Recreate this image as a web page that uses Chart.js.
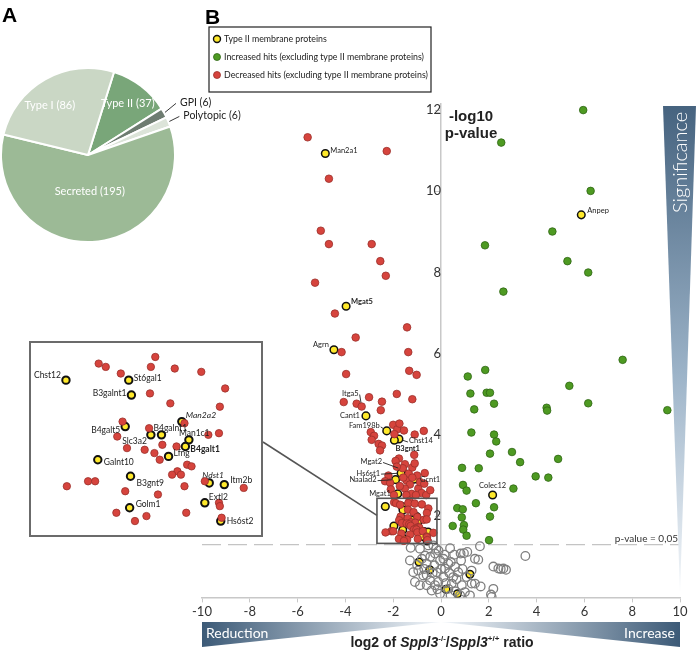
<!DOCTYPE html>
<html>
<head>
<meta charset="utf-8">
<script src="https://cdn.jsdelivr.net/npm/chart.js@4.4.1/dist/chart.umd.min.js"></script>
<style>
  html, body { margin: 0; padding: 0; background: #fff; }
  #wrap { position: relative; width: 696px; height: 654px; overflow: hidden; }
  canvas { position: absolute; }
</style>
</head>
<body>
<div id="wrap">
  <canvas id="main" width="696" height="654" style="left:0;top:0"></canvas>
  <canvas id="pie" width="260" height="176" style="left:0;top:67px"></canvas>
  <canvas id="inset" width="234" height="196" style="left:29px;top:341px"></canvas>
</div>
<script>
// ---- panel A: pie ----
var pieLabels = ['Type II (37)', 'GPI (6)', 'Polytopic (6)', 'Secreted (195)', 'Type I (86)'];
var pieCounts = [37, 6, 6, 195, 86];
var pieColors = ['#79a679', '#6e7c71', '#dce4d9', '#9cba96', '#cad7c5'];

// ---- panel B: volcano ----
var xTicks = [-10, -8, -6, -4, -2, 0, 2, 4, 6, 8, 10];
var yTicks = [2, 4, 6, 8, 10, 12];

// not significant (open circles)
var greyX = [0.38, 1.63, 3.53, 1.56, 2.19, 2.50, 2.72, 2.19, 2.09, 1.66, 1.28, 0.82, 0.96, 1.10, 0.84, 0.41,
  -1.27, -0.88, -0.53, -0.32, -1.30, -0.67, -0.25, -0.04, 0.31, 1.42, 2.40, 2.61, -1.16, -0.74, -0.18, 0.17,
  0.51, 0.72, 1.07, 1.42, -1.09, -0.88, -0.46, -0.11, -0.39, -0.04, 0.45, 0.87, 1.00, 1.21, 2.12, -0.95,
  -0.60, -0.28, 0.59, 1.28, 0.10, 0.31, -0.25, -0.60, -0.80, -0.45, -0.10, 0.15, 0.55, -0.35, 0.00, 0.35,
  0.65, 0.20, -0.15, 0.60, 0.80, 0.40, -0.60, -1.00, -0.70, 0.90, -0.20, 0.10];
var greyY = [1.21, 1.26, 1.02, 0.93, 0.76, 0.70, 0.68, 0.21, 0.07, 0.27, 0.34, 1.08, 1.09, 1.12, 0.91, 0.87,
  1.22, 1.20, 1.28, 1.28, 0.91, 1.03, 1.08, 0.91, 0.83, 0.95, 0.71, 0.71, 0.62, 0.54, 0.62, 0.71,
  0.50, 0.62, 0.50, 0.34, 0.38, 0.30, 0.42, 0.38, 0.17, 0.09, 0.34, 0.30, 0.13, 0.05, 0.01, 0.66,
  0.83, 0.79, 0.75, 0.66, 0.50, 0.21, 0.30, 0.30, 0.95, 1.00, 1.15, 1.05, 1.05, 0.60, 0.70, 0.60,
  0.45, 0.35, 0.20, 0.15, 0.05, 0.05, 0.55, 0.80, 0.70, 0.70, 1.20, 0.95];

// decreased hits
var redX = [-5.58, -2.27, -4.69, -5.03, -4.69, -2.90, -2.54, -2.31, -5.27, -4.44, -1.42, -3.57, -1.37, -4.16,
  -1.33, -3.97, -1.02, -4.07, -3.53, -3.01, -2.47, -2.52, -1.85, -1.20, -2.94, -2.80, -2.90, -2.61, -2.47,
  -2.55, -2.00, -1.83, -1.74, -1.55, -1.10, -0.72, -1.95, -1.12, -1.76, -1.90, -1.51, -0.68, -2.20, -2.34,
  -2.13, -1.44, -1.30, -0.95, -2.10, -1.51, -0.81, -1.23, -1.60, -1.35, -1.20, -1.00, -0.88, -1.72, -0.62,
  -0.45, -1.97, -1.45, -0.70, -1.05, -1.85, -1.10, -1.58, -1.20];
var redY = [11.33, 10.99, 10.31, 9.03, 8.70, 8.70, 8.28, 7.92, 7.75, 6.99, 6.65, 6.40, 6.04, 6.04,
  5.58, 5.50, 5.48, 4.81, 4.77, 4.93, 4.82, 4.61, 5.01, 4.88, 4.07, 3.98, 3.88, 3.78, 3.74,
  3.62, 4.25, 4.14, 4.28, 4.11, 4.01, 4.10, 4.02, 3.51, 3.42, 3.36, 3.28, 3.06, 3.00, 2.86,
  2.82, 2.88, 2.78, 2.68, 2.66, 2.68, 2.57, 2.55, 3.18, 3.05, 3.20, 3.00, 2.84, 2.74, 2.52,
  2.64, 2.52, 2.52, 2.80, 2.52, 3.22, 3.30, 2.95, 2.95];
var itga5X = [-3.32];
var itga5Y = [4.70];
// decreased hits inside the zoomed box (read from the enlarged view)
var zoomRedX = [-1.32, -1.96, -1.88, -1.37, -1.10, -0.80, -1.71, -1.38, -0.53, -1.15, -0.59, -1.69, -0.99,
  -1.39, -1.75, -0.72, -0.60, -1.64, -1.44, -1.24, -1.08, -1.33, -1.27, -0.96, -0.91, -1.07, -1.13, -1.03,
  -2.08, -2.00, -2.32, -0.99, -0.76, -0.32, -1.66, -1.29, -0.60, -0.59, -1.76, -1.42, -0.97, -1.55, -0.57];
var zoomRedY = [2.38, 2.34, 2.32, 2.32, 2.31, 2.29, 2.28, 2.16, 2.19, 2.10, 2.08, 1.99, 1.98,
  1.95, 1.90, 1.91, 1.92, 1.83, 1.82, 1.85, 1.84, 1.80, 1.76, 1.73, 1.72, 1.69, 1.67, 1.67,
  1.63, 1.63, 1.60, 1.60, 1.63, 1.59, 1.57, 1.55, 1.50, 1.48, 1.44, 1.42, 1.44, 1.39, 1.41];

// increased hits
var greenX = [5.95, 2.52, 6.26, 4.66, 1.84, 5.29, 6.16, 2.61, 7.60, 1.85, 1.12, 1.23, 1.91, 2.05, 5.37, 2.22,
  6.16, 1.39, 4.42, 4.44, 9.47, 1.27, 2.22, 2.31, 2.05, 2.97, 3.31, 4.90, 0.88, 1.58, 3.96, 4.49, 0.92,
  1.07, 3.03, 1.46, 2.22, 0.68, 0.91, 0.87, 2.05, 0.49, 0.96, 0.93, 1.07, 2.01];
var greenY = [12.00, 11.20, 10.01, 9.01, 8.67, 8.28, 8.00, 7.53, 5.85, 5.60, 5.44, 5.02, 5.04, 5.04, 5.21, 4.77,
  4.78, 4.63, 4.67, 4.60, 4.61, 4.06, 4.01, 3.84, 3.54, 3.58, 3.33, 3.41, 3.19, 3.18, 2.98, 2.95, 2.77,
  2.63, 2.68, 2.32, 2.22, 2.20, 2.17, 1.97, 1.99, 1.76, 1.78, 1.67, 1.52, 1.41];

// type II membrane proteins
var typeIINames = ['Man2a1', 'Mgat5', 'Agrn', 'Cant1', 'Fam198b', 'Chst14', 'B3gnt1', 'Mgat2', 'Hs6st1',
  'Naalad2', 'Gcnt1', 'Mgat1', 'Colec12', 'Anpep', '', '', '', '', ''];
var typeIIX = [-4.84, -3.97, -4.48, -3.14, -2.27, -1.76, -1.95, -1.63, -1.67, -1.90, -1.13, -1.81, 2.16, 5.87,
  -0.92, -0.47, 1.21, 0.21, 0.69];
var typeIIY = [10.93, 7.17, 6.10, 4.47, 4.10, 3.90, 3.87, 3.15, 3.06, 2.90, 2.91, 2.55, 2.52, 9.42,
  0.87, 0.68, 0.57, 0.20, 0.09];
var zoomTypeIINames = ['Chst12', 'St6gal1', 'B3galnt1', 'Man2a2', 'B4galt5', 'Slc3a2', 'B4galnt1', 'Man1c1',
  'B4galt1', 'Lfng', 'Galnt10', 'B3gnt9', 'Ndst1', 'Itm2b', 'Extl2', 'Golm1', 'Hs6st2'];
var zoomTypeIIX = [-2.33, -1.62, -1.59, -1.02, -1.66, -1.37, -1.25, -0.94, -0.98, -1.17, -1.97, -1.60,
  -0.71, -0.54, -0.76, -1.61, -0.58];
var zoomTypeIIY = [2.24, 2.24, 2.15, 1.99, 1.96, 1.91, 1.91, 1.88, 1.84, 1.78, 1.76, 1.66,
  1.62, 1.61, 1.50, 1.47, 1.39];

var zoomBox = { xMin: -2.68, xMax: -0.17, yMin: 1.33, yMax: 2.44 };
var pCut = 1.301; // -log10(0.05)

var legendItems = ['Type II membrane proteins',
  'Increased hits (excluding type II membrane proteins)',
  'Decreased hits (excluding type II membrane proteins)'];

function pts(xs, ys) { return xs.map(function (x, i) { return { x: x, y: ys[i] }; }); }

var allRedX = redX.concat(itga5X, zoomRedX), allRedY = redY.concat(itga5Y, zoomRedY);
var allYX = typeIIX.concat(zoomTypeIIX), allYY = typeIIY.concat(zoomTypeIIY);

function datasets(r, yBw) {
  return [
    { data: pts(greyX, greyY), pointRadius: r + 0.5, backgroundColor: 'rgba(0,0,0,0)', borderColor: '#7f7f7f', borderWidth: 1.3 },
    { data: pts(allRedX, allRedY), pointRadius: r, backgroundColor: '#d6443d', borderColor: '#9b302b', borderWidth: 0.8 },
    { data: pts(greenX, greenY), pointRadius: r, backgroundColor: '#4e9a22', borderColor: '#2f6614', borderWidth: 0.8 },
    { data: pts(allYX, allYY), pointRadius: r, backgroundColor: '#ffe92b', borderColor: '#111', borderWidth: yBw }
  ];
}

Chart.defaults.font.family = 'Lato, "Open Sans", sans-serif';

var mainStyle = {
  Man2a1: { dx: 5, dy: -3, align: 'left' },
  Mgat5: { dx: 5, dy: -5, align: 'left', bold: true },
  Agrn: { dx: -5, dy: -5, align: 'right' },
  Itga5: { dx: -3, dy: -13, align: 'right', line: true },
  Cant1: { dx: -6, dy: 0, align: 'right' },
  Fam198b: { dx: -7, dy: -5, align: 'right', line: true },
  Chst14: { dx: 10, dy: 2, align: 'left', line: true },
  B3gnt1: { dx: 1, dy: 8, align: 'left', bold: true },
  Mgat2: { dx: -20, dy: -8, align: 'right', line: true },
  Hs6st1: { dx: -21, dy: 0, align: 'right', line: true },
  Naalad2: { dx: -19, dy: 0, align: 'right', line: true },
  Gcnt1: { dx: 6, dy: 0, align: 'left' },
  Mgat1: { dx: -7, dy: 0, align: 'right' },
  Colec12: { dx: 0, dy: -9, align: 'center' },
  Anpep: { dx: 6, dy: -4, align: 'left' }
};
var insetStyle = {
  Chst12: { dx: -5, dy: -5, align: 'right' },
  St6gal1: { dx: 5, dy: -2, align: 'left' },
  B3galnt1: { dx: -5, dy: -2, align: 'right' },
  Man2a2: { dx: 4, dy: -6, align: 'left', italic: true },
  B4galt5: { dx: -5, dy: 4, align: 'right' },
  B4galnt1: { dx: -8, dy: -7, align: 'left' },
  Slc3a2: { dx: -4, dy: 6, align: 'right' },
  Man1c1: { dx: -10, dy: -7, align: 'left' },
  B4galt1: { dx: 5, dy: 3, align: 'left', bold: true },
  Lfng: { dx: 5, dy: -3, align: 'left' },
  Galnt10: { dx: 6, dy: 3, align: 'left' },
  B3gnt9: { dx: 6, dy: 7, align: 'left' },
  Ndst1: { dx: -7, dy: -8, align: 'left', italic: true },
  Itm2b: { dx: 6, dy: -4, align: 'left' },
  Extl2: { dx: 4, dy: -6, align: 'left' },
  Golm1: { dx: 6, dy: -4, align: 'left' },
  Hs6st2: { dx: 6, dy: 0, align: 'left' }
};

function drawNames(chart, names, xs, ys, styles, size) {
  var ctx = chart.ctx, sx = chart.scales.x, sy = chart.scales.y;
  ctx.save();
  ctx.fillStyle = '#222';
  ctx.strokeStyle = '#222';
  ctx.lineWidth = 0.9;
  ctx.textBaseline = 'middle';
  names.forEach(function (n, i) {
    var s = styles[n];
    if (!s) return;
    var px = sx.getPixelForValue(xs[i]), py = sy.getPixelForValue(ys[i]);
    var tx = px + s.dx, ty = py + s.dy;
    ctx.font = (s.italic ? 'italic ' : '') + (s.bold ? 'bold ' : '') + size + 'px Lato, sans-serif';
    ctx.textAlign = s.align;
    ctx.fillText(n, tx, ty);
    if (s.line) {
      var lx = tx + (s.align === 'right' ? 1 : -1), ly = ty + 1;
      var d = Math.hypot(px - lx, py - ly), k = (d - 4) / d;
      ctx.beginPath();
      ctx.moveTo(lx, ly);
      ctx.lineTo(lx + (px - lx) * k, ly + (py - ly) * k);
      ctx.stroke();
    }
  });
  ctx.restore();
}

function richText(ctx, parts, cx, y) {
  var w = 0;
  parts.forEach(function (p) { ctx.font = p.f; p.w = ctx.measureText(p.t).width; w += p.w; });
  var x = cx - w / 2;
  ctx.textAlign = 'left';
  parts.forEach(function (p) { ctx.font = p.f; ctx.fillText(p.t, x, y + (p.dy || 0)); x += p.w; });
}

var decor = {
  id: 'decor',
  beforeDatasetsDraw: function (chart) {
    var ctx = chart.ctx, sx = chart.scales.x, sy = chart.scales.y;
    var yc = sy.getPixelForValue(pCut);
    ctx.save();
    ctx.strokeStyle = '#c4c4c4';
    ctx.lineWidth = 1.3;
    ctx.setLineDash([19, 7]);
    ctx.beginPath();
    ctx.moveTo(sx.getPixelForValue(-10), yc);
    ctx.lineTo(sx.getPixelForValue(10), yc);
    ctx.stroke();
    ctx.restore();
  },
  afterDatasetsDraw: function (chart) {
    var ctx = chart.ctx, sx = chart.scales.x, sy = chart.scales.y;
    var x0 = sx.getPixelForValue(-10), x1 = sx.getPixelForValue(10), xm = sx.getPixelForValue(0);
    ctx.save();

    // zoom box + connector to the enlarged panel
    var bx0 = sx.getPixelForValue(zoomBox.xMin), bx1 = sx.getPixelForValue(zoomBox.xMax);
    var by0 = sy.getPixelForValue(zoomBox.yMax), by1 = sy.getPixelForValue(zoomBox.yMin);
    ctx.strokeStyle = '#555';
    ctx.lineWidth = 1.6;
    ctx.strokeRect(bx0, by0, bx1 - bx0, by1 - by0);
    ctx.beginPath();
    ctx.moveTo(263, 442);
    ctx.lineTo(bx0, by0 + (by1 - by0) * 0.38);
    ctx.stroke();

    // significance wedge
    var g = ctx.createLinearGradient(0, 106, 0, 592);
    g.addColorStop(0, '#46637f');
    g.addColorStop(0.55, '#9cb3c8');
    g.addColorStop(1, '#f4f7fa');
    ctx.fillStyle = g;
    ctx.beginPath();
    ctx.moveTo(663, 106); ctx.lineTo(696, 106); ctx.lineTo(680, 592); ctx.closePath();
    ctx.fill();
    ctx.save();
    ctx.translate(681, 213);
    ctx.rotate(-Math.PI / 2);
    ctx.fillStyle = '#fff';
    ctx.font = '300 20px Lato, sans-serif';
    ctx.textAlign = 'left';
    ctx.textBaseline = 'middle';
    ctx.fillText('Significance', 0, 0);
    ctx.restore();

    // reduction / increase wedges
    var gl = ctx.createLinearGradient(x0, 0, xm, 0);
    gl.addColorStop(0, '#3c5a77'); gl.addColorStop(1, '#f2f6fa');
    ctx.fillStyle = gl;
    ctx.beginPath();
    ctx.moveTo(x0, 622); ctx.lineTo(xm, 622); ctx.lineTo(x0, 647); ctx.closePath();
    ctx.fill();
    var gr = ctx.createLinearGradient(x1, 0, xm, 0);
    gr.addColorStop(0, '#3c5a77'); gr.addColorStop(1, '#f2f6fa');
    ctx.fillStyle = gr;
    ctx.beginPath();
    ctx.moveTo(x1, 622); ctx.lineTo(xm, 622); ctx.lineTo(x1, 647); ctx.closePath();
    ctx.fill();
    ctx.fillStyle = '#fff';
    ctx.font = '14px Lato, sans-serif';
    ctx.textBaseline = 'middle';
    ctx.textAlign = 'left';
    ctx.fillText('Reduction', x0 + 4, 633);
    ctx.textAlign = 'right';
    ctx.fillText('Increase', x1 - 5, 633);

    // axis titles
    ctx.fillStyle = '#222';
    ctx.textBaseline = 'alphabetic';
    var B = 'bold 14px "Liberation Sans", Arial, sans-serif';
    var BI = 'italic bold 14px "Liberation Sans", Arial, sans-serif';
    var S = 'bold 8px "Liberation Sans", Arial, sans-serif';
    richText(ctx, [{ t: 'log2 of ', f: B }, { t: 'Sppl3', f: BI }, { t: '-/-', f: S, dy: -6 },
      { t: '/', f: B }, { t: 'Sppl3', f: BI }, { t: '+/+', f: S, dy: -6 }, { t: ' ratio', f: B }], xm + 1, 647);
    ctx.font = 'bold 15px "Liberation Sans", Arial, sans-serif';
    ctx.textAlign = 'center';
    ctx.textBaseline = 'middle';
    ctx.fillText('-log10', 471, 117);
    ctx.fillText('p-value', 471, 134);

    // p-value threshold note
    ctx.font = '10px Lato, sans-serif';
    ctx.fillStyle = '#333';
    ctx.textAlign = 'right';
    ctx.fillText('p-value = 0,05', 678, sy.getPixelForValue(pCut) - 6);

    // legend
    var lx = 209, ly = 27, lw = 222, lh = 65;
    ctx.strokeStyle = '#222';
    ctx.lineWidth = 1.2;
    ctx.strokeRect(lx, ly, lw, lh);
    var cols = [['#ffe92b', '#111', 1.4], ['#4e9a22', '#2f6614', 0.8], ['#d6443d', '#9b302b', 0.8]];
    ctx.font = '10px Lato, sans-serif';
    var fit = 10 * (lw - 18) / ctx.measureText(legendItems[2]).width;
    ctx.font = fit.toFixed(2) + 'px Lato, sans-serif';
    ctx.textAlign = 'left';
    legendItems.forEach(function (t, i) {
      var yy = ly + 12 + i * 18;
      ctx.beginPath();
      ctx.arc(lx + 8, yy, 3.5, 0, Math.PI * 2);
      ctx.fillStyle = cols[i][0];
      ctx.fill();
      ctx.strokeStyle = cols[i][1];
      ctx.lineWidth = cols[i][2];
      ctx.stroke();
      ctx.fillStyle = '#222';
      ctx.fillText(t, lx + 15, yy);
    });

    // panel letters
    ctx.font = 'bold 21px "Liberation Sans", Arial, sans-serif';
    ctx.textAlign = 'left';
    ctx.textBaseline = 'alphabetic';
    ctx.fillStyle = '#000';
    ctx.fillText('A', 2, 22);
    ctx.fillText('B', 205, 24);
    ctx.restore();

    drawNames(chart, typeIINames.concat(['Itga5']), typeIIX.concat(itga5X), typeIIY.concat(itga5Y), mainStyle, 7.5);
  }
};

new Chart(document.getElementById('main'), {
  type: 'scatter',
  data: { datasets: datasets(3.8, 1.5) },
  options: {
    responsive: false,
    animation: false,
    layout: { padding: { left: 202, right: 16, top: 104, bottom: 32 } },
    plugins: { legend: { display: false }, tooltip: { enabled: false } },
    scales: {
      x: {
        type: 'linear', min: -10, max: 10,
        afterBuildTicks: function (axis) { axis.ticks = xTicks.map(function (v) { return { value: v }; }); },
        ticks: { color: '#333', font: { size: 13 }, padding: 2 },
        grid: { drawOnChartArea: false, tickLength: 5, color: '#c8c8c8' },
        border: { color: '#c8c8c8', width: 1.5 }
      },
      y: {
        type: 'linear', position: { x: 0 }, min: 0, max: 12.15,
        afterBuildTicks: function (axis) { axis.ticks = yTicks.map(function (v) { return { value: v }; }); },
        ticks: { color: '#333', font: { size: 13 }, padding: 6 },
        grid: { drawOnChartArea: false, tickLength: 5, color: '#c8c8c8' },
        border: { color: '#c8c8c8', width: 1.5 }
      }
    }
  },
  plugins: [decor]
});

// enlarged view of the boxed region
new Chart(document.getElementById('inset'), {
  type: 'scatter',
  data: { datasets: datasets(3.7, 2) },
  options: {
    responsive: false,
    animation: false,
    layout: { padding: 0 },
    plugins: { legend: { display: false }, tooltip: { enabled: false } },
    scales: {
      x: { type: 'linear', display: false, min: zoomBox.xMin, max: zoomBox.xMax },
      y: { type: 'linear', display: false, min: zoomBox.yMin, max: zoomBox.yMax }
    }
  },
  plugins: [{
    id: 'insetDecor',
    afterDatasetsDraw: function (chart) {
      drawNames(chart, zoomTypeIINames, zoomTypeIIX, zoomTypeIIY, insetStyle, 8.5);
      var ctx = chart.ctx;
      ctx.save();
      ctx.strokeStyle = '#6b6b6b';
      ctx.lineWidth = 2;
      ctx.strokeRect(1, 1, chart.width - 2, chart.height - 2);
      ctx.restore();
    }
  }]
});

// panel A
var pieText = {
  id: 'pieText',
  afterDraw: function (chart) {
    var ctx = chart.ctx, arcs = chart.getDatasetMeta(0).data;
    var inside = { 0: 0.75, 3: 0.42, 4: 0.72 };
    ctx.save();
    ctx.textBaseline = 'middle';
    arcs.forEach(function (a, i) {
      var mid = (a.startAngle + a.endAngle) / 2, r = a.outerRadius;
      var cx = a.x, cy = a.y;
      if (inside[i] !== undefined) {
        ctx.fillStyle = '#fff';
        ctx.font = '11px Lato, sans-serif';
        ctx.textAlign = 'center';
        var ang = i === 4 ? mid - 0.14 : mid;
        ctx.fillText(pieLabels[i], cx + Math.cos(ang) * r * inside[i], cy + Math.sin(ang) * r * inside[i]);
      } else {
        var sx0 = cx + Math.cos(mid) * (r + 1), sy0 = cy + Math.sin(mid) * (r + 1);
        var ex = sx0 + (i === 1 ? 11 : 10), ey = sy0 + (i === 1 ? -9 : -5);
        ctx.strokeStyle = '#222';
        ctx.lineWidth = 0.9;
        ctx.beginPath(); ctx.moveTo(sx0, sy0); ctx.lineTo(ex, ey); ctx.stroke();
        ctx.fillStyle = '#222';
        ctx.font = '10.5px Lato, sans-serif';
        ctx.textAlign = 'left';
        ctx.fillText(pieLabels[i], ex + 4, ey - 1);
      }
    });
    ctx.restore();
  }
};

new Chart(document.getElementById('pie'), {
  type: 'pie',
  data: { labels: pieLabels, datasets: [{ data: pieCounts, backgroundColor: pieColors, borderColor: '#fff', borderWidth: 2 }] },
  options: {
    responsive: false,
    animation: false,
    rotation: 17.4,
    layout: { padding: { right: 84 } },
    plugins: { legend: { display: false }, tooltip: { enabled: false } }
  },
  plugins: [pieText]
});
</script>
</body>
</html>
